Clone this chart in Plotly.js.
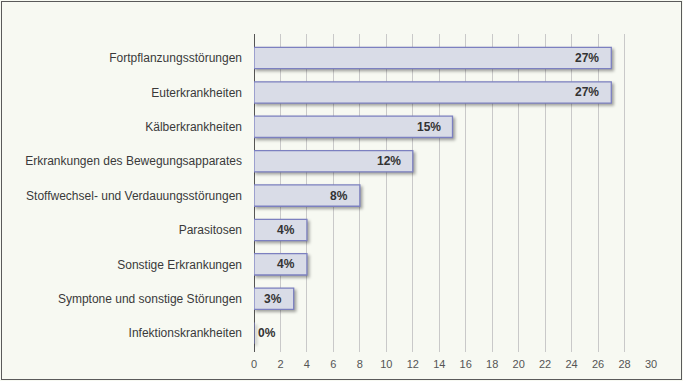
<!DOCTYPE html>
<html>
<head>
<meta charset="utf-8">
<script src="https://cdn.plot.ly/plotly-3.0.1.min.js"></script>
<style>
html,body{margin:0;padding:0;background:#f7f9f2;}
#wrap{position:relative;width:683px;height:381px;}
#chart{width:683px;height:381px;}
#frame{position:absolute;left:1px;top:1px;width:679px;height:377px;border:1.5px solid #5a5a5a;pointer-events:none;}
#chart .bars .point path{filter:drop-shadow(2px 2px 1.5px rgba(0,0,0,0.35));}
</style>
</head>
<body>
<div id="wrap"><div id="chart"></div><div id="frame"></div></div>
<script>
const categories = [
  "Fortpflanzungsstörungen",
  "Euterkrankheiten",
  "Kälberkrankheiten",
  "Erkrankungen des Bewegungsapparates",
  "Stoffwechsel- und Verdauungsstörungen",
  "Parasitosen",
  "Sonstige Erkrankungen",
  "Symptone und sonstige Störungen",
  "Infektionskrankheiten"
];
const values = [27, 27, 15, 12, 8, 4, 4, 3, 0];
const labels = ["27%", "27%", "15%", "12%", "8%", "4%", "4%", "3%", "0%"];
const xTicks = [0,2,4,6,8,10,12,14,16,18,20,22,24,26,28,30];

const FONT = 'Liberation Sans, Arial, sans-serif';

const trace = {
  type: 'bar',
  orientation: 'h',
  x: values,
  y: categories,
  width: 0.62,
  marker: {color: '#d9dce7', line: {color: '#7c80c0', width: 1.3}},
  hoverinfo: 'none'
};

const annotations = values.map((v, i) => ({
  x: v,
  y: categories[i],
  xref: 'x',
  yref: 'y',
  text: labels[i],
  showarrow: false,
  xanchor: v > 0 ? 'right' : 'left',
  xshift: v > 0 ? -10 : 2,
  font: {family: FONT, size: 12, color: '#333333', weight: 'bold'}
}));

const layout = {
  width: 683, height: 381,
  paper_bgcolor: '#f7f9f2',
  plot_bgcolor: '#f7f9f2',
  margin: {l: 254, r: 32, t: 34, b: 29},
  showlegend: false,
  font: {family: FONT, size: 12, color: '#333'},
  annotations: annotations,
  xaxis: {
    range: [0, 30],
    tickvals: xTicks,
    ticktext: xTicks.map(String),
    showgrid: true,
    gridcolor: '#c9c9c9',
    gridwidth: 1,
    zeroline: true,
    zerolinecolor: '#555555',
    zerolinewidth: 1,
    showline: false,
    ticks: '',
    ticklabelstandoff: 4,
    tickfont: {family: FONT, size: 11, color: '#555555'},
    fixedrange: true
  },
  yaxis: {
    type: 'category',
    range: [8.55, -0.70],
    showgrid: false,
    zeroline: false,
    showline: false,
    ticks: '',
    ticklabelstandoff: 11,
    tickfont: {family: FONT, size: 12, color: '#3a3a3a'},
    fixedrange: true
  }
};

Plotly.newPlot('chart', [trace], layout, {displayModeBar: false, staticPlot: true});
</script>
</body>
</html>
